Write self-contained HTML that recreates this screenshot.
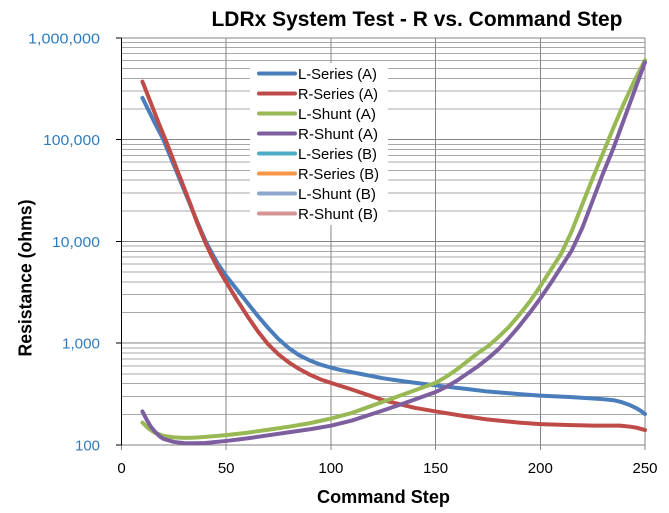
<!DOCTYPE html>
<html><head><meta charset="utf-8"><style>
html,body{margin:0;padding:0;background:#fff;}
svg{display:block;}
text{font-family:"Liberation Sans",Arial,sans-serif;}
</style></head><body>
<svg width="669" height="513" viewBox="0 0 669 513" xmlns="http://www.w3.org/2000/svg">
<rect x="0" y="0" width="669" height="513" fill="#fff"/>
<!-- minor gridlines -->
<path shape-rendering="crispEdges" stroke="#a8a8a8" stroke-width="1" fill="none" d="
M121.5 414.36H645M121.5 396.43H645M121.5 383.71H645M121.5 373.85H645M121.5 365.79H645M121.5 358.97H645M121.5 353.07H645M121.5 347.86H645
M121.5 312.56H645M121.5 294.63H645M121.5 281.91H645M121.5 272.05H645M121.5 263.99H645M121.5 257.17H645M121.5 251.27H645M121.5 246.06H645
M121.5 210.76H645M121.5 192.83H645M121.5 180.11H645M121.5 170.25H645M121.5 162.19H645M121.5 155.37H645M121.5 149.47H645M121.5 144.26H645
M121.5 108.96H645M121.5 91.03H645M121.5 78.31H645M121.5 68.45H645M121.5 60.39H645M121.5 53.57H645M121.5 47.67H645M121.5 42.46H645"/>
<!-- major gridlines -->
<path shape-rendering="crispEdges" stroke="#858585" stroke-width="1" fill="none" d="
M121.5 37.8H645M121.5 139.6H645M121.5 241.4H645M121.5 343.2H645
M226.2 37.8V450M330.9 37.8V450M435.6 37.8V450M540.3 37.8V450M645 37.8V450M121.5 445V450"/>
<!-- bottom axis -->
<path shape-rendering="crispEdges" stroke="#808080" stroke-width="1" fill="none" d="M121.5 445H645"/>
<!-- left axis -->
<path shape-rendering="crispEdges" stroke="#000" stroke-width="1" fill="none" d="M121.5 37.8V445M116 37.8H121.5M116 139.6H121.5M116 241.4H121.5M116 343.2H121.5M116 445H121.5"/>

<!-- series -->
<g fill="none" stroke-width="4" stroke-linejoin="round" stroke-linecap="round">
<polyline stroke="#4A7EBB" points="142.44,97.86 148.72,110.59 155,123.31 163.38,139.6 171.76,159.96 178.04,175.23 184.32,190.5 190.6,205.77 196.88,221.04 205.26,240.38 211.54,252.6 217.82,263.8 226.2,276.01 236.67,289.25 247.14,302.48 257.61,315.71 268.08,327.93 278.55,339.13 289.02,348.29 299.49,355.42 309.96,360.51 320.43,364.58 330.9,367.63 341.37,370.18 351.84,372.21 362.31,374.25 372.78,376.28 383.25,378.32 404.19,381.37 435.6,385.45 467.01,389.01 487.95,391.55 519.36,394.1 540.3,395.63 571.71,397.15 603.12,399.19 613.59,400.21 621.96,402.24 630.34,405.3 636.62,408.35 640.81,410.89 645,413.95"/>
<polyline stroke="#BE4B48" points="142.44,81.57 150.82,102.95 159.19,124.33 165.47,139.6 171.76,155.89 178.04,172.18 184.32,188.46 190.6,204.75 196.88,222.06 205.26,242.42 211.54,255.65 217.82,267.87 226.2,282.12 236.67,299.43 247.14,315.71 257.61,330.98 268.08,344.22 278.55,354.4 289.02,362.54 299.49,369.16 309.96,374.76 320.43,379.34 330.9,382.9 351.84,389.52 383.25,400.21 414.66,407.84 435.6,411.41 467.01,416.5 487.95,419.55 519.36,422.6 540.3,424.13 571.71,425.15 594.74,425.66 619.87,425.66 630.34,426.68 636.62,427.69 645,430.04"/>
<polyline stroke="#98B954" points="142.44,422.6 148.72,428.71 155,432.78 163.38,435.84 173.85,437.36 184.32,437.87 194.79,437.67 205.26,436.86 226.2,435.13 247.14,432.78 268.08,429.73 289.02,426.68 309.96,423.11 330.9,418.53 351.84,412.93 383.25,401.73 404.19,394.1 435.6,382.9 446.07,376.79 456.54,369.67 467.01,361.52 477.48,353.38 487.95,346.25 498.42,337.09 508.89,326.91 519.36,314.7 529.83,301.46 540.3,286.19 550.77,269.9 561.24,253.62 571.71,231.22 582.18,204.75 592.65,178.28 603.12,152.83 613.59,127.38 624.06,102.95 634.53,80.56 645,60.2"/>
<polyline stroke="#7D5FA0" points="142.44,411.41 146.63,419.55 150.82,426.68 155,431.77 159.19,435.84 163.38,438.89 173.85,441.95 184.32,443.17 194.79,443.27 205.26,442.96 226.2,440.93 247.14,438.38 268.08,435.33 289.02,432.27 309.96,429.22 330.9,425.66 351.84,420.57 383.25,410.39 404.19,403.26 435.6,392.06 446.07,386.97 456.54,380.87 467.01,373.74 477.48,366.61 487.95,358.47 498.42,349.31 508.89,338.11 519.36,325.89 529.83,312.66 540.3,298.41 550.77,283.14 561.24,266.85 571.71,250.56 582.18,228.17 592.65,200.68 603.12,173.19 613.59,147.74 624.06,119.24 634.53,90.74 645,62.23"/>
</g>

<!-- legend -->
<rect x="250" y="63" width="138" height="162" fill="#fff"/>
<g stroke-width="4" stroke-linecap="round">
<line x1="259" y1="73.5" x2="295" y2="73.5" stroke="#4A7EBB"/>
<line x1="259" y1="93.5" x2="295" y2="93.5" stroke="#BE4B48"/>
<line x1="259" y1="113.5" x2="295" y2="113.5" stroke="#98B954"/>
<line x1="259" y1="133.5" x2="295" y2="133.5" stroke="#7D5FA0"/>
<line x1="259" y1="153.5" x2="295" y2="153.5" stroke="#4BACC6"/>
<line x1="259" y1="173.5" x2="295" y2="173.5" stroke="#F79646"/>
<line x1="259" y1="193.5" x2="295" y2="193.5" stroke="#8DA8CF"/>
<line x1="259" y1="213.5" x2="295" y2="213.5" stroke="#D49594"/>
</g>
<g font-size="15" fill="#000">
<text x="298" y="79" textLength="79" lengthAdjust="spacingAndGlyphs">L-Series (A)</text>
<text x="298" y="99" textLength="80" lengthAdjust="spacingAndGlyphs">R-Series (A)</text>
<text x="298" y="119" textLength="78" lengthAdjust="spacingAndGlyphs">L-Shunt (A)</text>
<text x="298" y="139" textLength="80" lengthAdjust="spacingAndGlyphs">R-Shunt (A)</text>
<text x="298" y="159" textLength="79" lengthAdjust="spacingAndGlyphs">L-Series (B)</text>
<text x="298" y="179" textLength="81" lengthAdjust="spacingAndGlyphs">R-Series (B)</text>
<text x="298" y="199" textLength="78" lengthAdjust="spacingAndGlyphs">L-Shunt (B)</text>
<text x="298" y="219" textLength="80" lengthAdjust="spacingAndGlyphs">R-Shunt (B)</text>
</g>

<!-- y tick labels -->
<g font-size="15" fill="#2F7DC0" text-anchor="end">
<text x="100" y="43.3" textLength="72" lengthAdjust="spacingAndGlyphs">1,000,000</text>
<text x="100" y="145.1" textLength="57" lengthAdjust="spacingAndGlyphs">100,000</text>
<text x="100" y="246.9" textLength="48" lengthAdjust="spacingAndGlyphs">10,000</text>
<text x="100" y="348.7" textLength="38" lengthAdjust="spacingAndGlyphs">1,000</text>
<text x="100" y="450.5" textLength="25" lengthAdjust="spacingAndGlyphs">100</text>
</g>

<!-- x tick labels -->
<g font-size="15" fill="#000" text-anchor="middle">
<text x="121.5" y="473">0</text>
<text x="226.2" y="473">50</text>
<text x="330.9" y="473">100</text>
<text x="435.6" y="473">150</text>
<text x="540.3" y="473">200</text>
<text x="645" y="473">250</text>
</g>

<!-- titles -->
<text x="211.5" y="26" font-size="21" font-weight="bold" fill="#000" textLength="411" lengthAdjust="spacingAndGlyphs">LDRx System Test - R vs. Command Step</text>
<text x="317" y="503" font-size="18" font-weight="bold" fill="#000" textLength="133" lengthAdjust="spacingAndGlyphs">Command Step</text>
<text transform="translate(31.5,278) rotate(-90)" x="0" y="0" text-anchor="middle" font-size="18" font-weight="bold" fill="#000" textLength="157" lengthAdjust="spacingAndGlyphs">Resistance (ohms)</text>
</svg>
</body></html>
